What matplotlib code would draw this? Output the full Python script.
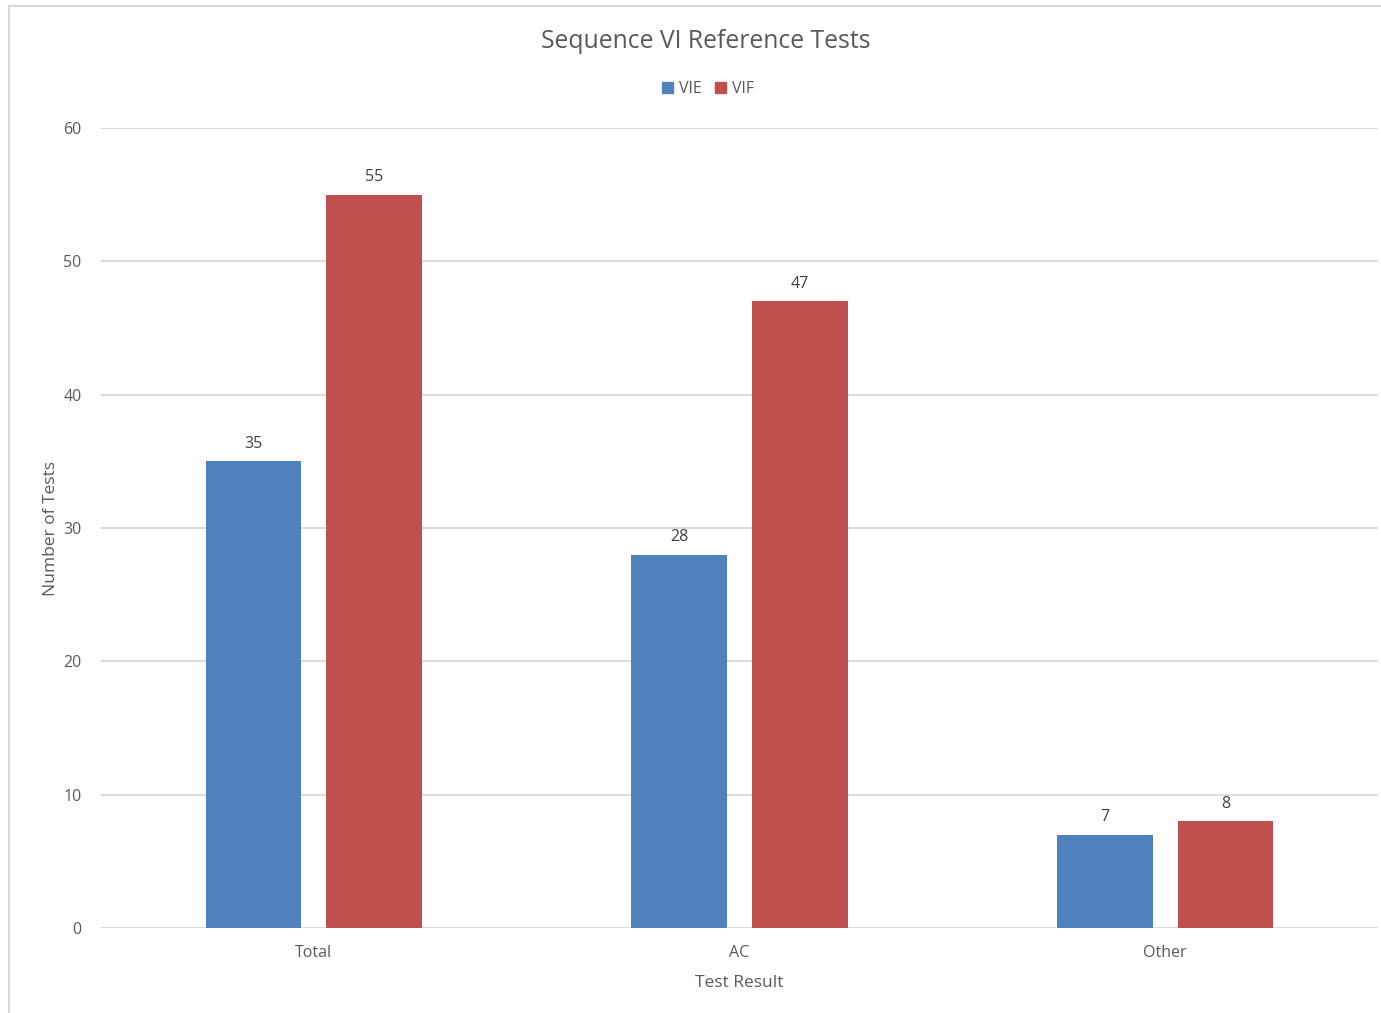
import numpy as np
import matplotlib.pyplot as plt
from matplotlib.lines import Line2D
from matplotlib.patches import Patch

categories = ['Total', 'AC', 'Other']
vie = [35, 28, 7]
vif = [55, 47, 8]
series_names = ['VIE', 'VIF']
yticks = [0, 10, 20, 30, 40, 50, 60]

blue = '#4F81BD'
red = '#C0504D'
text_col = '#595959'
grid_col = '#D9D9D9'

plt.rcParams['font.family'] = ['Open Sans', 'DejaVu Sans']

fig = plt.figure(figsize=(13.81, 10.13), dpi=100)
W, H = 1381, 1013
ax = fig.add_axes([101 / W, 1 - 928 / H, (1378 - 101) / W, (928 - 128) / H])

x = np.arange(len(categories))
bw = 0.225
off = 0.142
b1 = ax.bar(x - off, vie, bw, color=blue, zorder=3)
b2 = ax.bar(x + off, vif, bw, color=red, zorder=3)

for bars in (b1, b2):
    for rect in bars:
        h = rect.get_height()
        ax.annotate(f'{h:g}', (rect.get_x() + rect.get_width() / 2, h),
                    xytext=(0, 7), textcoords='offset points',
                    ha='center', va='bottom', fontsize=11.5, color='#404040')

ax.set_xlim(-0.5, len(categories) - 0.5)
ax.set_ylim(0, 60)
ax.set_yticks(yticks)
ax.set_xticks(x)
ax.set_xticklabels(categories)
ax.tick_params(axis='both', length=0, labelsize=11.5, colors=text_col)
ax.tick_params(axis='y', pad=14)
ax.tick_params(axis='x', pad=12)
ax.grid(axis='y', color=grid_col, linewidth=1.3, zorder=0)
for s in ax.spines.values():
    s.set_visible(False)

ax.set_xlabel('Test Result', fontsize=12.5, color=text_col, labelpad=10)
ax.set_ylabel('Number of Tests', fontsize=12.5, color=text_col, labelpad=3)

fig.text(706 / W, 1 - 41 / H, 'Sequence VI Reference Tests', ha='center', va='center',
         fontsize=17.8, color=text_col)

handles = [Patch(color=blue), Patch(color=red)]
fig.legend(handles, series_names, loc='center', bbox_to_anchor=(708 / W, 1 - 89 / H),
           ncol=2, frameon=False, fontsize=11.5, labelcolor=text_col,
           handlelength=0.7, handleheight=0.7, handletextpad=0.4, columnspacing=0.8)

# chart border
fig.add_artist(Line2D([9 / W, 9 / W], [0, 1 - 6 / H], color=grid_col, linewidth=1.5))
fig.add_artist(Line2D([9 / W, 1381 / W], [1 - 6 / H, 1 - 6 / H], color=grid_col, linewidth=1.5))

fig.savefig('out.png', dpi=100)
